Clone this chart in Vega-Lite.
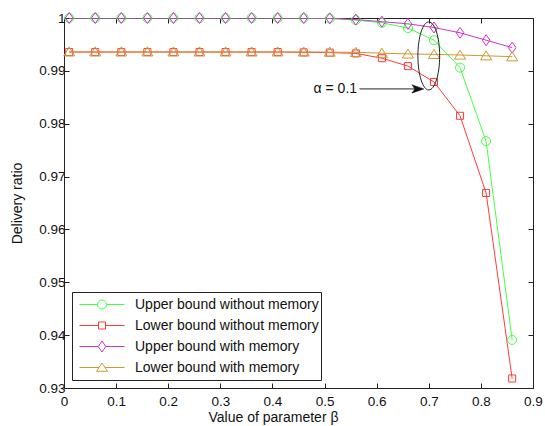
{
  "$schema": "https://vega.github.io/schema/vega-lite/v6.json",
  "width": 469,
  "height": 370,
  "autosize": "none",
  "padding": {"left": 64, "top": 18, "right": 12, "bottom": 38},
  "background": "white",
  "config": {
    "view": {"stroke": null},
    "font": "Liberation Sans",
    "axis": {"grid": false, "domainColor": "#222", "tickColor": "#222", "labelColor": "#111", "titleColor": "#111", "labelFont": "Liberation Sans", "titleFont": "Liberation Sans", "labelFontSize": 13.5, "titleFontSize": 14, "titleFontWeight": "normal", "tickSize": -5, "domainWidth": 1, "tickWidth": 1},
    "legend": {"title": null, "orient": "none", "legendX": 8, "legendY": 274, "direction": "vertical", "padding": 2, "strokeColor": "#222", "fillColor": "white", "labelFont": "Liberation Sans", "labelFontSize": 14, "labelColor": "#111", "symbolSize": 2025, "clipHeight": 21, "rowPadding": 0, "symbolOffset": 5, "labelOffset": 10, "labelLimit": 300, "symbolStrokeWidth": 1, "symbolOpacity": 1}
  },
  "datasets": {
    "main": [
      {"s": "Upper bound without memory", "x": 0.01, "y": 1},
      {"s": "Upper bound without memory", "x": 0.06, "y": 1},
      {"s": "Upper bound without memory", "x": 0.11, "y": 1},
      {"s": "Upper bound without memory", "x": 0.16, "y": 1},
      {"s": "Upper bound without memory", "x": 0.21, "y": 1},
      {"s": "Upper bound without memory", "x": 0.26, "y": 1},
      {"s": "Upper bound without memory", "x": 0.31, "y": 1},
      {"s": "Upper bound without memory", "x": 0.36, "y": 1},
      {"s": "Upper bound without memory", "x": 0.41, "y": 1},
      {"s": "Upper bound without memory", "x": 0.46, "y": 0.99998},
      {"s": "Upper bound without memory", "x": 0.51, "y": 0.9999},
      {"s": "Upper bound without memory", "x": 0.56, "y": 0.9996},
      {"s": "Upper bound without memory", "x": 0.61, "y": 0.9991},
      {"s": "Upper bound without memory", "x": 0.66, "y": 0.9981},
      {"s": "Upper bound without memory", "x": 0.71, "y": 0.9958},
      {"s": "Upper bound without memory", "x": 0.76, "y": 0.9906},
      {"s": "Upper bound without memory", "x": 0.81, "y": 0.9767},
      {"s": "Upper bound without memory", "x": 0.86, "y": 0.9391},
      {"s": "Lower bound without memory", "x": 0.01, "y": 0.99355},
      {"s": "Lower bound without memory", "x": 0.06, "y": 0.99355},
      {"s": "Lower bound without memory", "x": 0.11, "y": 0.99355},
      {"s": "Lower bound without memory", "x": 0.16, "y": 0.99355},
      {"s": "Lower bound without memory", "x": 0.21, "y": 0.99355},
      {"s": "Lower bound without memory", "x": 0.26, "y": 0.99355},
      {"s": "Lower bound without memory", "x": 0.31, "y": 0.99355},
      {"s": "Lower bound without memory", "x": 0.36, "y": 0.99355},
      {"s": "Lower bound without memory", "x": 0.41, "y": 0.99355},
      {"s": "Lower bound without memory", "x": 0.46, "y": 0.9935},
      {"s": "Lower bound without memory", "x": 0.51, "y": 0.99345},
      {"s": "Lower bound without memory", "x": 0.56, "y": 0.9933},
      {"s": "Lower bound without memory", "x": 0.61, "y": 0.9924},
      {"s": "Lower bound without memory", "x": 0.66, "y": 0.9909},
      {"s": "Lower bound without memory", "x": 0.71, "y": 0.9879},
      {"s": "Lower bound without memory", "x": 0.76, "y": 0.9815},
      {"s": "Lower bound without memory", "x": 0.81, "y": 0.9669},
      {"s": "Lower bound without memory", "x": 0.86, "y": 0.9318},
      {"s": "Upper bound with memory", "x": 0.01, "y": 1},
      {"s": "Upper bound with memory", "x": 0.06, "y": 1},
      {"s": "Upper bound with memory", "x": 0.11, "y": 1},
      {"s": "Upper bound with memory", "x": 0.16, "y": 1},
      {"s": "Upper bound with memory", "x": 0.21, "y": 1},
      {"s": "Upper bound with memory", "x": 0.26, "y": 1},
      {"s": "Upper bound with memory", "x": 0.31, "y": 1},
      {"s": "Upper bound with memory", "x": 0.36, "y": 1},
      {"s": "Upper bound with memory", "x": 0.41, "y": 1},
      {"s": "Upper bound with memory", "x": 0.46, "y": 1},
      {"s": "Upper bound with memory", "x": 0.51, "y": 0.99995},
      {"s": "Upper bound with memory", "x": 0.56, "y": 0.9997},
      {"s": "Upper bound with memory", "x": 0.61, "y": 0.9993},
      {"s": "Upper bound with memory", "x": 0.66, "y": 0.9989},
      {"s": "Upper bound with memory", "x": 0.71, "y": 0.9982},
      {"s": "Upper bound with memory", "x": 0.76, "y": 0.9972},
      {"s": "Upper bound with memory", "x": 0.81, "y": 0.9958},
      {"s": "Upper bound with memory", "x": 0.86, "y": 0.9944},
      {"s": "Lower bound with memory", "x": 0.01, "y": 0.9936},
      {"s": "Lower bound with memory", "x": 0.06, "y": 0.9936},
      {"s": "Lower bound with memory", "x": 0.11, "y": 0.9936},
      {"s": "Lower bound with memory", "x": 0.16, "y": 0.9936},
      {"s": "Lower bound with memory", "x": 0.21, "y": 0.9936},
      {"s": "Lower bound with memory", "x": 0.26, "y": 0.9936},
      {"s": "Lower bound with memory", "x": 0.31, "y": 0.9936},
      {"s": "Lower bound with memory", "x": 0.36, "y": 0.9936},
      {"s": "Lower bound with memory", "x": 0.41, "y": 0.9936},
      {"s": "Lower bound with memory", "x": 0.46, "y": 0.99358},
      {"s": "Lower bound with memory", "x": 0.51, "y": 0.99355},
      {"s": "Lower bound with memory", "x": 0.56, "y": 0.9935},
      {"s": "Lower bound with memory", "x": 0.61, "y": 0.99335},
      {"s": "Lower bound with memory", "x": 0.66, "y": 0.9932},
      {"s": "Lower bound with memory", "x": 0.71, "y": 0.99312},
      {"s": "Lower bound with memory", "x": 0.76, "y": 0.993},
      {"s": "Lower bound with memory", "x": 0.81, "y": 0.99285},
      {"s": "Lower bound with memory", "x": 0.86, "y": 0.99268}
    ],
    "ellipse": [{"x": 0.7, "y": 0.99282}],
    "arrow": [{"x": 0.567, "x2": 0.679, "y": 0.98658}],
    "head": [{"x": 0.679, "y": 0.98658}],
    "label": [{"x": 0.5643, "y": 0.98658, "t": "α  = 0.1"}]
  },
  "resolve": {"axis": {"x": "independent", "y": "independent"}},
  "layer": [
    {
      "data": {"name": "main"},
      "mark": {"type": "line", "strokeWidth": 1, "clip": true},
      "encoding": {
        "x": {"field": "x", "type": "quantitative", "scale": {"domain": [0, 0.9], "nice": false, "zero": false},
          "axis": {"orient": "bottom", "values": [0, 0.1, 0.2, 0.3, 0.4, 0.5, 0.6, 0.7, 0.8, 0.9], "labelExpr": "datum.value == 0 ? '0' : format(datum.value, '.1f')", "title": "Value of parameter  β", "labelPadding": 11, "titlePadding": 3, "titleX": 209, "labelFlush": false}},
        "y": {"field": "y", "type": "quantitative", "scale": {"domain": [0.93, 1], "nice": false, "zero": false},
          "axis": {"orient": "left", "values": [0.93, 0.94, 0.95, 0.96, 0.97, 0.98, 0.99, 1], "labelExpr": "datum.value == 1 ? '1' : format(datum.value, '.2f')", "title": "Delivery ratio", "labelPadding": 4, "titlePadding": 14, "labelFlush": false}},
        "color": {"field": "s", "type": "nominal", "sort": null,
          "scale": {"domain": ["Upper bound without memory", "Lower bound without memory", "Upper bound with memory", "Lower bound with memory"], "range": ["#44ff44", "#ff3b3b", "#cc33cc", "#cc9933"]}}
      }
    },
    {
      "data": {"name": "main"},
      "mark": {"type": "point", "filled": false, "strokeWidth": 1, "size": 0},
      "encoding": {
        "x": {"field": "x", "type": "quantitative", "axis": {"orient": "top", "labels": false, "title": null, "values": [0, 0.1, 0.2, 0.3, 0.4, 0.5, 0.6, 0.7, 0.8, 0.9]}},
        "y": {"field": "y", "type": "quantitative", "axis": {"orient": "right", "labels": false, "title": null, "values": [0.93, 0.94, 0.95, 0.96, 0.97, 0.98, 0.99, 1]}},
        "color": {"field": "s", "type": "nominal", "sort": null},
        "shape": {"field": "s", "type": "nominal", "sort": null,
          "scale": {"domain": ["Upper bound without memory", "Lower bound without memory", "Upper bound with memory", "Lower bound with memory"],
            "range": ["M-1,0H-0.2M0.2,0H1M0.2,0A0.2,0.2,0,1,1,-0.2,0A0.2,0.2,0,1,1,0.2,0Z", "M-1,0H-0.156M0.156,0H1M-0.156,-0.156H0.156V0.156H-0.156Z", "M-1,0H-0.171M0.171,0H1M0,-0.244L0.171,0L0,0.244L-0.171,0Z", "M-1,0H-0.133M0.133,0H1M0,-0.2L0.244,0.167L-0.244,0.167Z"]}}
      }
    },
    {
      "data": {"name": "main"},
      "transform": [{"filter": {"field": "s", "equal": "Upper bound without memory"}}],
      "mark": {"type": "point", "filled": false, "stroke": "#44ff44", "strokeWidth": 1, "size": 121, "opacity": 1, "shape": "M0.82,0A0.82,0.82,0,1,1,-0.82,0A0.82,0.82,0,1,1,0.82,0Z"},
      "encoding": {
        "x": {"field": "x", "type": "quantitative", "axis": null},
        "y": {"field": "y", "type": "quantitative", "axis": null}
      }
    },
    {
      "data": {"name": "main"},
      "transform": [{"filter": {"field": "s", "equal": "Lower bound without memory"}}],
      "mark": {"type": "point", "filled": false, "stroke": "#ff3b3b", "strokeWidth": 1, "size": 121, "opacity": 1, "shape": "M-0.64,-0.64H0.64V0.64H-0.64Z"},
      "encoding": {
        "x": {"field": "x", "type": "quantitative", "axis": null},
        "y": {"field": "y", "type": "quantitative", "axis": null}
      }
    },
    {
      "data": {"name": "main"},
      "transform": [{"filter": {"field": "s", "equal": "Upper bound with memory"}}],
      "mark": {"type": "point", "filled": false, "stroke": "#cc33cc", "strokeWidth": 1, "size": 121, "opacity": 1, "shape": "M0,-1L0.7,0L0,1L-0.7,0Z"},
      "encoding": {
        "x": {"field": "x", "type": "quantitative", "axis": null},
        "y": {"field": "y", "type": "quantitative", "axis": null}
      }
    },
    {
      "data": {"name": "main"},
      "transform": [{"filter": {"field": "s", "equal": "Lower bound with memory"}}],
      "mark": {"type": "point", "filled": false, "stroke": "#cc9933", "strokeWidth": 1, "size": 121, "opacity": 1, "shape": "M0,-0.9L1,0.75L-1,0.75Z"},
      "encoding": {
        "x": {"field": "x", "type": "quantitative", "axis": null},
        "y": {"field": "y", "type": "quantitative", "axis": null}
      }
    },
    {
      "data": {"name": "ellipse"},
      "mark": {"type": "point", "filled": false, "stroke": "#222", "strokeWidth": 1, "size": 4624, "shape": "M0,-1A0.32,1,0,1,1,0,1A0.32,1,0,1,1,0,-1Z", "opacity": 1},
      "encoding": {
        "x": {"field": "x", "type": "quantitative", "axis": null},
        "y": {"field": "y", "type": "quantitative", "axis": null}
      }
    },
    {
      "data": {"name": "arrow"},
      "mark": {"type": "rule", "stroke": "#222", "strokeWidth": 1},
      "encoding": {
        "x": {"field": "x", "type": "quantitative", "axis": null},
        "x2": {"field": "x2"},
        "y": {"field": "y", "type": "quantitative", "axis": null}
      }
    },
    {
      "data": {"name": "head"},
      "mark": {"type": "point", "filled": true, "fill": "#111", "stroke": "#111", "strokeWidth": 0.5, "size": 144, "shape": "M1,0L-1,-0.7L-0.5,0L-1,0.7Z", "opacity": 1},
      "encoding": {
        "x": {"field": "x", "type": "quantitative", "axis": null},
        "y": {"field": "y", "type": "quantitative", "axis": null}
      }
    },
    {
      "data": {"name": "label"},
      "mark": {"type": "text", "align": "right", "baseline": "middle", "font": "Liberation Sans", "fontSize": 14, "color": "#111", "dx": -1},
      "encoding": {
        "x": {"field": "x", "type": "quantitative", "axis": null},
        "y": {"field": "y", "type": "quantitative", "axis": null},
        "text": {"field": "t"}
      }
    }
  ]
}
